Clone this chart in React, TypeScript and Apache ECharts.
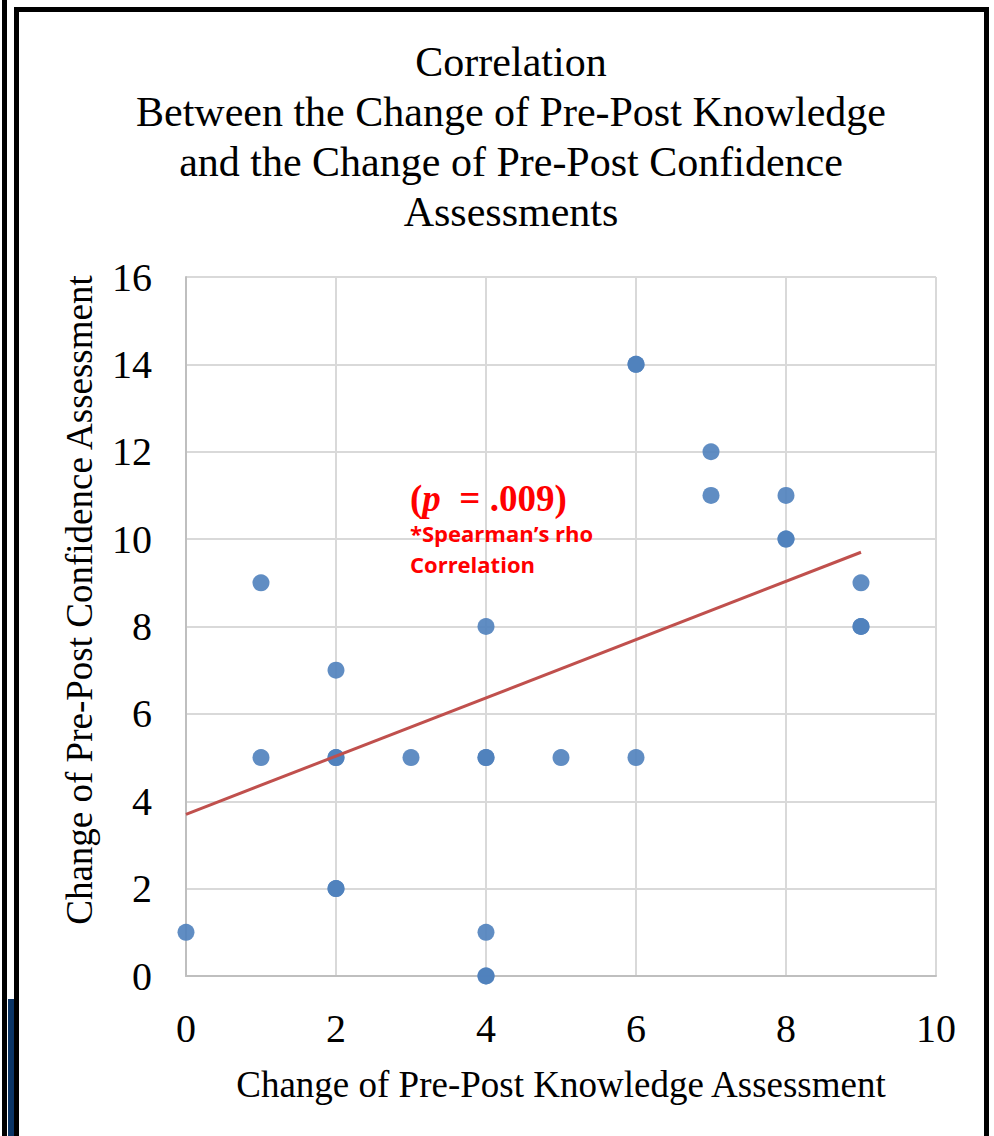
import React, { useEffect, useRef } from "react";
import * as echarts from "echarts";

const titleLines = [
  "Correlation",
  "Between the Change of Pre-Post Knowledge",
  "and the Change of Pre-Post Confidence",
  "Assessments",
];
const xAxisName = "Change of Pre-Post Knowledge Assessment";
const yAxisName = "Change of Pre-Post Confidence Assessment";

// knowledge change (x), confidence change (y); duplicates overlap
const knowledgeChange = [0, 1, 1, 2, 2, 2, 2, 2, 3, 4, 4, 4, 4, 4, 4, 5, 6, 6, 6, 7, 7, 8, 8, 8, 9, 9, 9];
const confidenceChange = [1, 9, 5, 7, 5, 5, 2, 2, 5, 8, 5, 5, 1, 0, 0, 5, 14, 14, 5, 12, 11, 11, 10, 10, 9, 8, 8];

// linear trendline endpoints
const trendX = [0, 9];
const trendY = [3.7, 9.7];

export default function App() {
  const ref = useRef<HTMLDivElement>(null);
  useEffect(() => {
    if (!ref.current) return;
    const chart = echarts.init(ref.current, null, { renderer: "svg" });
    const points = knowledgeChange.map((x, i) => [x, confidenceChange[i]]);
    const trend = trendX.map((x, i) => [x, trendY[i]]);
    const serif = "'Liberation Serif', 'Times New Roman', serif";
    chart.setOption({
      animation: false,
      backgroundColor: "#ffffff",
      grid: { left: 186, right: 58, top: 277, bottom: 160 },
      xAxis: {
        type: "value",
        min: 0,
        max: 10,
        interval: 2,
        name: xAxisName,
        nameLocation: "middle",
        nameGap: 90,
        nameTextStyle: { fontFamily: serif, fontSize: 37, color: "#000" },
        axisLine: { show: true, lineStyle: { color: "#bfbfbf", width: 2 } },
        axisTick: { show: false },
        axisLabel: { fontFamily: serif, fontSize: 40, color: "#000", margin: 32 },
        splitLine: { show: true, lineStyle: { color: "#d9d9d9", width: 2 } },
      },
      yAxis: {
        type: "value",
        min: 0,
        max: 16,
        interval: 2,
        axisLine: { show: true, lineStyle: { color: "#bfbfbf", width: 2 } },
        axisTick: { show: false },
        axisLabel: { fontFamily: serif, fontSize: 40, color: "#000", margin: 34 },
        splitLine: { show: true, lineStyle: { color: "#d9d9d9", width: 2 } },
      },
      series: [
        {
          type: "scatter",
          data: points,
          symbol: "circle",
          symbolSize: 17,
          itemStyle: { color: "#4f81bd", opacity: 0.9 },
          z: 3,
        },
        {
          type: "line",
          data: trend,
          symbol: "none",
          lineStyle: { color: "#c0504d", width: 3 },
          z: 4,
        },
      ],
      graphic: [
        {
          type: "rect",
          shape: { x: 2, y: 0, width: 5, height: 1136 },
          style: { fill: "#000" },
          z: 10,
        },
        {
          type: "rect",
          shape: { x: 8, y: 999, width: 6, height: 137 },
          style: { fill: "#0b3566" },
          z: 10,
        },
        {
          type: "rect",
          shape: { x: 16.5, y: 9.5, width: 970, height: 1140 },
          style: { fill: "none", stroke: "#000", lineWidth: 5 },
          z: 10,
        },
        {
          type: "text",
          x: 511,
          y: 37,
          style: {
            text: titleLines.join("\n"),
            font: `42px ${serif}`,
            fill: "#000",
            textAlign: "center",
            textVerticalAlign: "top",
            lineHeight: 50,
          },
          z: 10,
        },
        {
          type: "text",
          x: 79,
          y: 600,
          rotation: Math.PI / 2,
          style: {
            text: yAxisName,
            font: `37px ${serif}`,
            fill: "#000",
            textAlign: "center",
            textVerticalAlign: "middle",
          },
          z: 10,
        },
        {
          type: "text",
          x: 410,
          y: 498,
          style: {
            text: "{b|(}{i|p}{b|  = .009)}",
            textVerticalAlign: "middle",
            rich: {
              b: { fontFamily: serif, fontSize: 37, fontWeight: "bold", fill: "#ff0000" },
              i: { fontFamily: serif, fontSize: 37, fontWeight: "bold", fontStyle: "italic", fill: "#ff0000" },
            },
          },
          z: 10,
        },
        {
          type: "text",
          x: 410,
          y: 517,
          style: {
            text: "*Spearman\u2019s rho\nCorrelation",
            font: "bold 22px 'Open Sans', 'Liberation Sans', sans-serif",
            fill: "#ff0000",
            textVerticalAlign: "top",
            lineHeight: 31,
          },
          z: 10,
        },
      ],
    });
    return () => chart.dispose();
  }, []);
  return (
    <div
      ref={ref}
      style={{ position: "fixed", left: 0, top: 0, width: 994, height: 1136 }}
    />
  );
}
